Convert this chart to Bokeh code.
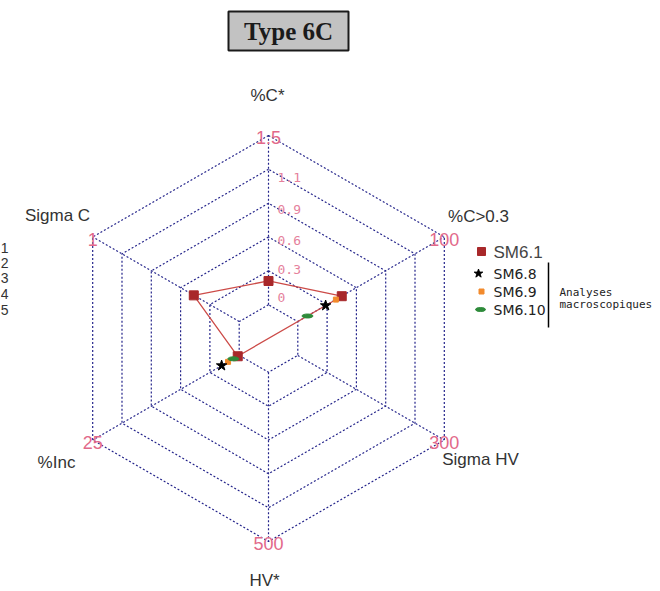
import numpy as np
from bokeh.plotting import figure
from bokeh.models import Range1d
from bokeh.core.properties import value
from bokeh.embed import file_html
from bokeh.resources import INLINE

# ---- data ----
axes = ["%C*", "Sigma C", "%Inc", "HV*", "Sigma HV", "%C>0.3"]
axis_max = [1.5, 1, 25, 500, 300, 100]
axis_min = [0, 0, 0, 0, 0, 0]
max_labels = ["1.5", "1", "25", "500", "300", "100"]
scale_labels = ["0", "0.3", "0.6", "0.9", "1.1"]
nan = float("nan")
series_names = ["SM6.1", "SM6.8", "SM6.9", "SM6.10"]
sm61 = [0.21, 0.31, 0.25, nan, nan, 30]
sm68 = [nan, nan, 3.0, nan, nan, 19]
sm69 = [nan, nan, 1.9, nan, nan, 26]
sm610 = [nan, nan, 1.0, nan, nan, 6.6]
left_numbers = ["1", "2", "3", "4", "5"]

# ---- geometry (page pixel coordinates) ----
CX, CY, R = 268.0, 338.0, 203.0
SEG = 5
theta = np.deg2rad([90, 150, 210, 270, 330, 30])

def frac(vals):
    v = np.array(vals, dtype=float)
    mn = np.array(axis_min, dtype=float)
    mx = np.array(axis_max, dtype=float)
    vn = (v - mn) / (mx - mn)
    return (1 + vn * SEG) / (SEG + 1)

def to_xy(vals):
    f = frac(vals)
    return CX + R * f * np.cos(theta), CY - R * f * np.sin(theta)

W, H = 660, 591
p = figure(width=W, height=H, x_range=Range1d(0, W), y_range=Range1d(H, 0),
           output_backend="svg", toolbar_location=None, min_border=0,
           x_axis_location=None, y_axis_location=None)
p.grid.visible = False
p.outline_line_color = None

grid_col = "#23238a"
# hexagon grid
xs, ys = [], []
for k in range(1, SEG + 2):
    f = k / (SEG + 1)
    hx = list(CX + R * f * np.cos(theta)) + [CX + R * f * np.cos(theta[0])]
    hy = list(CY - R * f * np.sin(theta)) + [CY - R * f * np.sin(theta[0])]
    xs.append(hx); ys.append(hy)
p.multi_line(xs, ys, line_color=grid_col, line_dash="2 2", line_width=1.2)
# spokes
f0 = 1 / (SEG + 1)
p.segment(x0=CX + R * f0 * np.cos(theta), y0=CY - R * f0 * np.sin(theta),
          x1=CX + R * np.cos(theta), y1=CY - R * np.sin(theta),
          line_color=grid_col, line_dash="2 2", line_width=1.2)

# scale labels (central axis)
lab_y = [297, 269, 240, 209, 177]
p.text(x=[277] * len(scale_labels), y=lab_y, text=scale_labels,
       text_font=value("DejaVu Sans Mono"), text_font_size="13px",
       text_color="#e5819c", text_align="left", text_baseline="middle")

# max labels at vertices
vx = CX + R * np.cos(theta)
vy = CY - R * np.sin(theta)
p.text(x=vx, y=vy + 2, text=max_labels, text_font=value("Liberation Sans"),
       text_font_size="18px", text_color="#e2698a", text_align="center",
       text_baseline="middle")

# axis names
name_x = [267, 57, 56, 264, 480, 478]
name_y = [95, 215, 462, 580, 459, 216]
p.text(x=name_x, y=name_y, text=axes, text_font=value("Liberation Sans"),
       text_font_size="17px", text_color="#333333", text_align="center",
       text_baseline="middle")

# SM6.1 polygon (NA skipped)
x61, y61 = to_xy(sm61)
ok = ~np.isnan(x61)
px = list(x61[ok]) + [x61[ok][0]]
py = list(y61[ok]) + [y61[ok][0]]
p.line(px, py, line_color="#cc4b48", line_width=1.3)
p.scatter(x61[ok], y61[ok], marker="square", size=9, fill_color="#a8282a",
          line_color="#a8282a")

# other series points
x69, y69 = to_xy(sm69)
ok9 = ~np.isnan(x69)
p.scatter(x69[ok9], y69[ok9], marker="square", size=5, fill_color="#f28a2c",
          line_color="#f28a2c")
x610, y610 = to_xy(sm610)
ok10 = ~np.isnan(x610)
p.ellipse(x610[ok10], y610[ok10], width=11, height=4, width_units="screen",
          height_units="screen", fill_color="#2e8b3a", line_color="#2e8b3a")
x68, y68 = to_xy(sm68)
ok8 = ~np.isnan(x68)
p.scatter(x68[ok8], y68[ok8], marker="star", size=11, fill_color="black",
          line_color="black")

# legend
p.scatter([481], [251], marker="square", size=8, fill_color="#a8282a", line_color="#a8282a")
p.scatter([478], [273], marker="star", size=9, fill_color="black", line_color="black")
p.scatter([481], [291], marker="square", size=5, fill_color="#f28a2c", line_color="#f28a2c")
p.ellipse([480], [309], width=10, height=4, width_units="screen", height_units="screen",
          fill_color="#2e8b3a", line_color="#2e8b3a")
p.text(x=[493], y=[252], text=[series_names[0]], text_font=value("Liberation Sans"),
       text_font_size="17px", text_color="#444444", text_align="left", text_baseline="middle")
p.text(x=[493, 493, 493], y=[273, 291, 309], text=series_names[1:],
       text_font=value("DejaVu Sans"), text_font_size="14px", text_color="#222222",
       text_align="left", text_baseline="middle")
p.segment(x0=[548], y0=[262], x1=[548], y1=[327], line_color="black", line_width=1.5)
p.text(x=[559, 559], y=[292, 304], text=["Analyses", "macroscopiques"],
       text_font=value("DejaVu Sans Mono"), text_font_size="11px", text_color="#222222",
       text_align="left", text_baseline="middle")

# cut-off numbers at left edge
p.text(x=[8] * 5, y=[247, 262, 277, 293, 309], text=left_numbers,
       text_font=value("Liberation Sans"), text_font_size="14px", text_color="#333333",
       text_align="right", text_baseline="middle")

# title box
p.quad(left=[228], right=[348], top=[11], bottom=[50], fill_color="#c2c2c2",
       line_color="#1a1a1a", line_width=2)
p.text(x=[288], y=[31], text=["Type 6C"], text_font=value("Liberation Serif"),
       text_font_style="bold", text_font_size="25px", text_color="#1a1a1a",
       text_align="center", text_baseline="middle")

open("out.html", "w").write(file_html(p, INLINE))
